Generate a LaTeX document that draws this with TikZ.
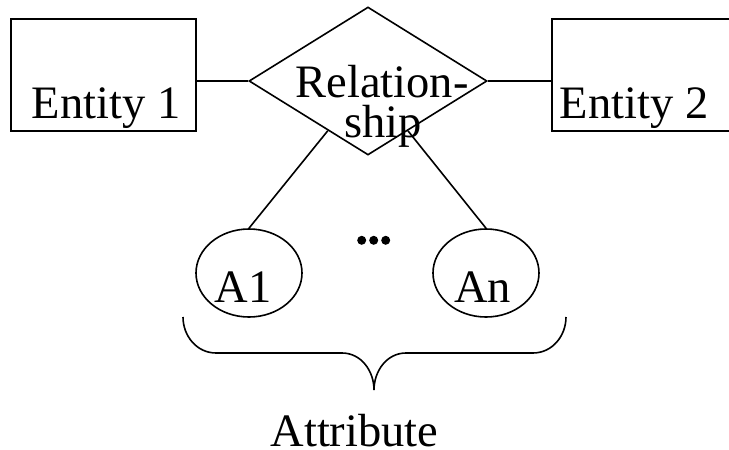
\documentclass[tikz,border=0pt]{standalone}
\usepackage{fontspec}
\setmainfont{Liberation Serif}
\usetikzlibrary{shapes.geometric}
\begin{document}
\begin{tikzpicture}[x=1pt,y=1pt,
  line width=1.6pt,
  txt/.style={inner sep=0pt,font=\fontsize{46.5}{40}\selectfont},
  entity/.style={draw,rectangle,minimum width=185pt,minimum height=112pt,inner sep=0pt},
  rel/.style={draw,diamond,minimum width=238pt,minimum height=148pt,inner sep=0pt},
  attr/.style={draw,ellipse,minimum width=106pt,minimum height=88pt,inner sep=0pt},
  dot/.style={fill,circle,inner sep=0pt,minimum size=9pt}]
\useasboundingbox (0,0) rectangle (729,-450);
\fill[white] (0,0) rectangle (729,-450);
% entities
\node[entity] (e1) at (103.5,-75) {};
\node[txt,anchor=base west] (e1t) at (31,-118) {Entity 1};
\node[entity] (e2) at (644.5,-75) {};
\node[txt,anchor=base west] (e2t) at (559,-118) {Entity 2};
% relationship
\node[rel] (r) at (368,-81) {};
\node[txt,anchor=base] (rt1) at (382,-97) {Relation-};
\node[txt,anchor=base] (rt2) at (383,-137) {ship};
% attributes
\node[attr] (a1) at (249,-273) {};
\node[txt,anchor=base] (a1t) at (243,-302) {A1};
\node[attr] (an) at (486,-273) {};
\node[txt,anchor=base] (ant) at (482.5,-302) {An};
% dots
\node[dot] (d1) at (361.7,-240.3) {};
\node[dot] (d2) at (373.7,-240.3) {};
\node[dot] (d3) at (385.7,-240.3) {};
% connectors
\draw (r.west) -- (r.west -| e1.east);
\draw (r.east) -- (r.east -| e2.west);
\draw (r) -- (a1.north);
\draw (r) -- (an.north);
% brace
\coordinate (bl) at (183,-317);
\coordinate (br) at (566,-317);
\coordinate (bt) at (374,-390);
\draw (bl) to[out=-90,in=180] (216,-353) -- (342,-353)
  to[out=0,in=90] (bt) to[out=90,in=180] (406,-353) -- (533,-353)
  to[out=0,in=-90] (br);
\node[txt,anchor=base] (att) at (354.5,-446) {Attribute};
\end{tikzpicture}
\end{document}
